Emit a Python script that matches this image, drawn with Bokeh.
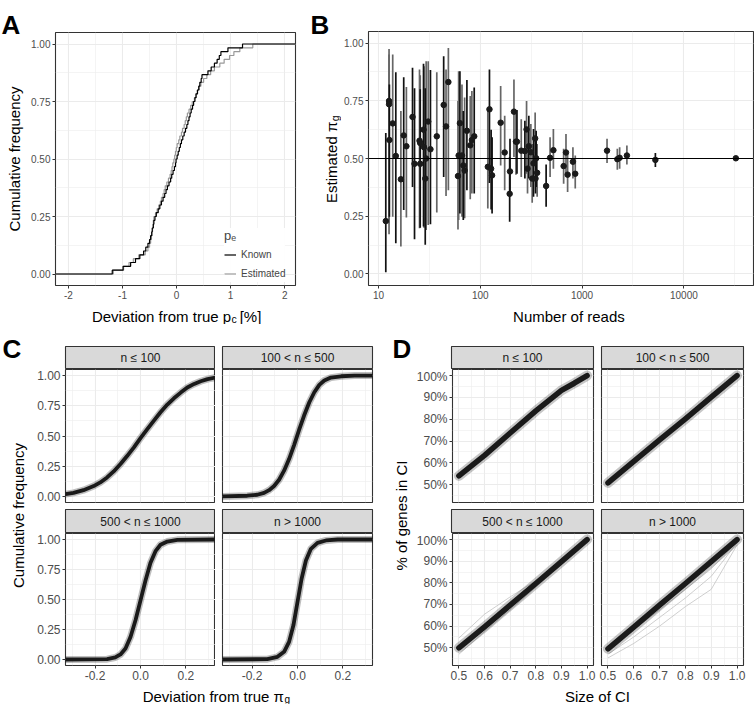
import math
from bokeh.plotting import figure
from bokeh.models import (Range1d, FixedTicker, NumeralTickFormatter,
                          PrintfTickFormatter, Span, Legend, LegendItem)
from bokeh.layouts import row, column
from bokeh.embed import file_html
from bokeh.resources import INLINE
from bokeh.core.properties import value

FONT = "Liberation Sans"

# ---------------- Panel A : deviation from true p_c (%) ----------------
A_known = [-1.19, -0.99, -0.85, -0.76, -0.68, -0.61, -0.57, -0.53, -0.50, -0.48,
           -0.46, -0.45, -0.43, -0.42, -0.40, -0.375, -0.34, -0.31, -0.28, -0.25,
           -0.22, -0.195, -0.17, -0.14, -0.11, -0.09, -0.065, -0.04, -0.02, -0.01,
           0.01, 0.03, 0.05, 0.07, 0.09, 0.115, 0.14, 0.165, 0.19, 0.21,
           0.23, 0.25, 0.27, 0.295, 0.315, 0.34, 0.36, 0.385, 0.41, 0.43,
           0.455, 0.47, 0.58, 0.64, 0.70, 0.75, 0.79, 0.82, 0.95, 1.22]
A_estimated = [-1.17, -0.98, -0.88, -0.80, -0.70, -0.58, -0.53, -0.50, -0.48, -0.465,
               -0.455, -0.445, -0.435, -0.43, -0.42, -0.39, -0.36, -0.33, -0.30, -0.28,
               -0.25, -0.23, -0.21, -0.18, -0.15, -0.12, -0.10, -0.085, -0.07, -0.05,
               -0.035, -0.02, -0.005, 0.01, 0.04, 0.06, 0.09, 0.11, 0.14, 0.16,
               0.18, 0.20, 0.23, 0.26, 0.29, 0.33, 0.36, 0.39, 0.42, 0.45,
               0.50, 0.56, 0.63, 0.70, 0.80, 0.88, 0.98, 1.06, 1.17, 1.41]
A_xticks = [-2, -1, 0, 1, 2]
A_yticks = [0, 0.25, 0.5, 0.75, 1.0]
A_legend = ["Known", "Estimated"]

# ---------------- Panel B : estimated pi_g vs number of reads ----------------
B_reads = [11.8, 12.7, 12.7, 12.8, 13.8, 14.8, 16.6, 17.7, 18.8, 21.6,
           22.6, 25.3, 25.7, 25.7, 27.7, 28.0, 28.8, 29.4, 30.8, 32.4,
           37.4, 43.7, 46.1, 48.6, 60.4, 61.3, 63.1, 66.1, 68.1, 70.2,
           73.9, 79.7, 82.7, 87.2, 118.6, 123.1, 127.8, 130.6, 158.6, 173.7,
           194.4, 195.9, 214.2, 224.1, 229.3, 252.7, 274.3, 284.9, 291.2, 300,
           314, 323.6, 333.4, 346, 348.8, 354, 362, 443.5, 485, 522.6,
           659, 695, 721, 813, 857, 1759, 2220, 2339, 2756, 5250, 32400]
B_est = [0.229, 0.749, 0.735, 0.58, 0.652, 0.511, 0.41, 0.60, 0.553, 0.68,
         0.477, 0.577, 0.567, 0.477, 0.625, 0.549, 0.413, 0.50, 0.66, 0.54,
         0.596, 0.732, 0.639, 0.831, 0.424, 0.513, 0.653, 0.513, 0.47, 0.448,
         0.62, 0.557, 0.58, 0.596, 0.464, 0.713, 0.456, 0.427, 0.655, 0.526,
         0.347, 0.444, 0.703, 0.573, 0.573, 0.534, 0.532, 0.626, 0.456, 0.553,
         0.527, 0.413, 0.479, 0.587, 0.413, 0.501, 0.438, 0.381, 0.503, 0.536,
         0.467, 0.526, 0.43, 0.486, 0.434, 0.534, 0.497, 0.503, 0.513, 0.494, 0.501]
B_hi = [0.610, 0.974, 0.95, 0.821, 0.95, 0.874, 0.706, 0.852, 0.81, 0.893,
        0.804, 0.885, 0.86, 0.80, 0.91, 0.90, 0.804, 0.921, 0.921, 0.883,
        0.874, 0.943, 0.885, 0.979, 0.749, 0.878, 0.878, 0.821, 0.706, 0.764,
        0.84, 0.771, 0.792, 0.807, 0.706, 0.885, 0.625, 0.592, 0.814, 0.685,
        0.506, 0.585, 0.842, 0.706, 0.71, 0.67, 0.663, 0.749, 0.628, 0.685,
        0.649, 0.563, 0.628, 0.699, 0.577, 0.62, 0.563, 0.474, 0.592, 0.628,
        0.542, 0.606, 0.52, 0.549, 0.513, 0.585, 0.542, 0.549, 0.556, 0.524, 0.511]
B_lo = [0.007, 0.172, 0.22, 0.248, 0.248, 0.133, 0.119, 0.277, 0.244, 0.377,
        0.15, 0.198, 0.25, 0.20, 0.205, 0.20, 0.126, 0.19, 0.212, 0.215,
        0.266, 0.42, 0.338, 0.362, 0.193, 0.234, 0.262, 0.248, 0.234, 0.241,
        0.362, 0.324, 0.348, 0.348, 0.284, 0.394, 0.279, 0.262, 0.47, 0.362,
        0.226, 0.348, 0.506, 0.43, 0.434, 0.42, 0.413, 0.434, 0.348, 0.413,
        0.377, 0.308, 0.334, 0.467, 0.348, 0.377, 0.334, 0.291, 0.42, 0.456,
        0.391, 0.434, 0.355, 0.413, 0.37, 0.48, 0.451, 0.456, 0.474, 0.463, 0.49]
B_tone = ["k", "g", "g", "k", "g", "k", "g", "k", "g", "k",
          "k", "g", "g", "k", "k", "g", "k", "g", "g", "k",
          "g", "k", "g", "g", "g", "g", "k", "g", "k", "g",
          "k", "g", "g", "k", "g", "k", "k", "k", "g", "g",
          "k", "k", "g", "g", "k", "g", "k", "g", "g", "k",
          "g", "g", "k", "g", "k", "k", "g", "k", "g", "g",
          "g", "g", "g", "g", "g", "g", "g", "g", "g", "k", "k"]
B_xticks = [10, 100, 1000, 10000]
B_yticks = [0, 0.25, 0.5, 0.75, 1.0]
B_ref = 0.5

# ---------------- Panel C : CDF of deviation from true pi_g ----------------
FACETS = ["n \u2264 100", "100 < n \u2264 500", "500 < n \u2264 1000", "n > 1000"]
C_x_n100 = [-0.330, -0.295, -0.251, -0.206, -0.177, -0.147, -0.118, -0.088, -0.059, -0.029,
            0.0, 0.029, 0.059, 0.088, 0.118, 0.147, 0.177, 0.206, 0.236, 0.265,
            0.295, 0.332]
C_y_n100 = [0.019, 0.030, 0.052, 0.086, 0.116, 0.157, 0.207, 0.268, 0.334, 0.406,
            0.483, 0.555, 0.627, 0.696, 0.760, 0.812, 0.859, 0.901, 0.931, 0.953,
            0.970, 0.984]
C_x_n500 = [-0.329, -0.221, -0.177, -0.147, -0.125, -0.103, -0.081, -0.059, -0.037, -0.015,
            0.007, 0.029, 0.052, 0.074, 0.096, 0.118, 0.147, 0.192, 0.251, 0.335]
C_y_n500 = [0.0, 0.006, 0.014, 0.030, 0.052, 0.086, 0.138, 0.213, 0.309, 0.425,
            0.550, 0.669, 0.779, 0.862, 0.923, 0.959, 0.983, 0.994, 1.0, 1.0]
C_x_n1000 = [-0.330, -0.147, -0.111, -0.088, -0.066, -0.044, -0.022, 0.0, 0.022, 0.044,
             0.066, 0.088, 0.118, 0.162, 0.332]
C_y_n1000 = [0.0, 0.003, 0.017, 0.042, 0.091, 0.188, 0.327, 0.493, 0.659, 0.806,
             0.903, 0.956, 0.983, 0.997, 1.0]
C_x_big = [-0.329, -0.133, -0.088, -0.059, -0.037, -0.018, 0.0, 0.018, 0.037, 0.059,
           0.088, 0.125, 0.177, 0.335]
C_y_big = [0.0, 0.003, 0.022, 0.064, 0.147, 0.285, 0.479, 0.673, 0.825, 0.922,
           0.972, 0.992, 1.0, 1.0]
C_xticks = [-0.2, 0.0, 0.2]
C_yticks = [0, 0.25, 0.5, 0.75, 1.0]

# ---------------- Panel D : coverage of credible intervals ----------------
D_x = [0.5, 0.6, 0.7, 0.8, 0.9, 1.0]
D_x_n100 = [0.5, 0.6, 0.7, 0.8, 0.9, 0.95, 1.0]
D_y_n100 = [0.540, 0.634, 0.737, 0.838, 0.932, 0.965, 1.0]
D_y_n500 = [0.508, 0.607, 0.705, 0.802, 0.901, 1.0]
D_y_n1000 = [0.500, 0.597, 0.697, 0.797, 0.898, 1.0]
D_y_big = [0.495, 0.595, 0.697, 0.797, 0.898, 1.0]
D_faint_n1000 = [[0.545, 0.655, 0.735, 0.81, 0.905, 1.0],
                 [0.47, 0.575, 0.675, 0.78, 0.885, 0.995]]
D_faint_big = [[0.453, 0.52, 0.60, 0.69, 0.77, 0.975],
               [0.47, 0.55, 0.64, 0.73, 0.83, 0.985],
               [0.485, 0.585, 0.675, 0.77, 0.865, 0.99]]
D_xticks = [0.5, 0.6, 0.7, 0.8, 0.9, 1.0]
D_yticks = [0.5, 0.6, 0.7, 0.8, 0.9, 1.0]

# ---------------- helpers ----------------
_CW = {" ": 278, "%": 889, "[": 278, "]": 278, ".": 278, "-": 333, "<": 584, ">": 584,
       "\u2264": 549, "\u03c0": 570, "A": 667, "B": 667, "C": 722, "D": 722, "E": 667,
       "I": 278, "N": 722, "S": 667, "a": 556, "b": 556, "c": 500, "d": 556, "e": 556,
       "f": 278, "g": 556, "i": 222, "l": 222, "m": 833, "n": 556, "o": 556, "p": 556,
       "q": 556, "r": 333, "s": 500, "t": 278, "u": 556, "v": 500, "y": 500, "z": 500}


def tw(s, size):
    return sum(_CW.get(ch, 556) for ch in s) * size / 1000.0


def txt(f, x, y, s, size, bold=False, color="#000000", align="left",
        baseline="alphabetic", angle=0.0):
    f.text(x=[x], y=[y], text=[s], angle=angle, text_font=value(FONT),
           text_font_size=f"{size}px", text_font_style="bold" if bold else "normal",
           text_color=color, text_align=align, text_baseline=baseline)


def rich(f, main, sub, tail, center, base, size, ssize, drop, rotated=False):
    """main text, then a subscript, then an optional tail, anchored at the junction."""
    total = tw(main, size) + tw(sub, ssize) + (tw(" " + tail, size) if tail else 0)
    anchor = center - total / 2.0 + tw(main, size)
    rot = math.pi / 2 if rotated else 0.0

    def put(a, b, s, sz, align):
        if rotated:
            txt(f, b, a, s, sz, align=align, angle=rot)
        else:
            txt(f, a, b, s, sz, align=align)

    put(anchor, base, main, size, "right")
    put(anchor + 0.5, base + drop if rotated else base - drop, sub, ssize, "left")
    if tail:
        put(anchor + 0.5 + tw(sub + " ", ssize) + 1, base, tail, size, "left")


def tfig(w, h):
    f = figure(width=w, height=h, x_range=Range1d(0, w), y_range=Range1d(0, h),
               x_axis_location=None, y_axis_location=None, toolbar_location=None,
               output_backend="svg")
    f.min_border_left = f.min_border_right = 0
    f.min_border_top = f.min_border_bottom = 0
    f.outline_line_color = None
    f.xgrid.visible = False
    f.ygrid.visible = False
    f.background_fill_color = "white"
    f.border_fill_color = "white"
    return f


def pfig(w, h, xr, yr, mb, xaxis=True, yaxis=True, xlog=False):
    f = figure(width=w, height=h, x_range=Range1d(*xr), y_range=Range1d(*yr),
               x_axis_type="log" if xlog else "linear",
               x_axis_location="below" if xaxis else None,
               y_axis_location="left" if yaxis else None,
               toolbar_location=None, output_backend="svg")
    f.min_border_left, f.min_border_right, f.min_border_top, f.min_border_bottom = mb
    f.outline_line_color = "#333333"
    f.outline_line_width = 1.1
    f.background_fill_color = "white"
    f.border_fill_color = "white"
    return f


def style(f, xt, xm, yt, ym, xfmt, yfmt, fsize, tick=3):
    for g, t, m in ((f.xgrid[0], xt, xm), (f.ygrid[0], yt, ym)):
        g.ticker = FixedTicker(ticks=t, minor_ticks=m)
        g.grid_line_color = "#EBEBEB"
        g.grid_line_width = 1.1
        g.minor_grid_line_color = "#EDEDED"
        g.minor_grid_line_width = 0.6
    axes = [(a, xt, xfmt) for a in f.xaxis] + [(a, yt, yfmt) for a in f.yaxis]
    for ax, t, fmt in axes:
        ax.ticker = FixedTicker(ticks=t)
        ax.formatter = fmt
        ax.axis_line_color = None
        ax.major_tick_line_color = "#333333"
        ax.major_tick_line_width = 1
        ax.major_tick_out = tick
        ax.major_tick_in = 0
        ax.minor_tick_line_color = None
        ax.major_label_text_color = "#4D4D4D"
        ax.major_label_text_font = FONT
        ax.major_label_text_font_size = fsize
        ax.major_label_standoff = 2


def sfig(w, h, mb, label):
    f = figure(width=w, height=h, x_range=Range1d(0, 1), y_range=Range1d(0, 1),
               x_axis_location=None, y_axis_location=None, toolbar_location=None,
               output_backend="svg")
    f.min_border_left, f.min_border_right, f.min_border_top, f.min_border_bottom = mb
    f.xgrid.visible = False
    f.ygrid.visible = False
    f.background_fill_color = "#D9D9D9"
    f.border_fill_color = "white"
    f.outline_line_color = "#333333"
    f.outline_line_width = 1.1
    txt(f, 0.5, 0.5, label, 12, color="#1A1A1A", align="center", baseline="middle")
    return f


def ecdf(vals, lo, hi):
    s = sorted(vals)
    n = len(s)
    return [lo] + s + [hi], [0.0] + [(i + 1) / n for i in range(n)] + [1.0]


def band_line(f, xs, ys, core, halo, halo_alpha):
    f.line(xs, ys, line_color="#000000", line_alpha=halo_alpha, line_width=halo,
           line_join="round", line_cap="round")
    f.line(xs, ys, line_color="#1A1A1A", line_width=core, line_join="round",
           line_cap="round")


TITLE = 15
SUB = 10.5
LETTER = 26
ASC = 0.905 * LETTER
TOP_H = 324          # height of the top row (panels A, B)
BOT_H = 380          # height of the bottom row (panels C, D)
XT_TOP = 23          # height of the x-title strip under A and B
XT_BOT = 22          # height of the x-title strip under C and D
GAP = 7              # spacing between the two facet rows

# ================= Panel A =================
A_xr = (-2.24, 2.2)
ytA = tfig(28, TOP_H)
txt(ytA, 1, TOP_H - ASC - 1, "A", LETTER, bold=True)
txt(ytA, 14, TOP_H - 158.5, "Cumulative frequency", TITLE, align="center",
    baseline="middle", angle=math.pi / 2)
figA = pfig(272, TOP_H - XT_TOP, A_xr, (-0.05, 1.05), (25, 5, 32, 16))
style(figA, A_xticks, [-1.5, -0.5, 0.5, 1.5], A_yticks, [0.125, 0.375, 0.625, 0.875],
      PrintfTickFormatter(format="%d"), PrintfTickFormatter(format="%.2f"), "10px")
xe, ye = ecdf(A_estimated, A_xr[0], A_xr[1])
xk, yk = ecdf(A_known, A_xr[0], A_xr[1])
r_est = figA.step(xe, ye, mode="after", line_color="#999999", line_width=1.2)
r_kn = figA.step(xk, yk, mode="after", line_color="#000000", line_width=1.2)
legA = Legend(items=[LegendItem(label=A_legend[0], renderers=[r_kn]),
                     LegendItem(label=A_legend[1], renderers=[r_est])],
              location=(169, 3), title="p\u2091")
legA.background_fill_color = "white"
legA.border_line_color = None
legA.padding = 4
legA.margin = 0
legA.spacing = 2
legA.glyph_width = 12
legA.glyph_height = 17
legA.label_height = 17
legA.label_standoff = 5
legA.label_text_font = FONT
legA.label_text_font_size = "10px"
legA.title_text_font = FONT
legA.title_text_font_size = "13px"
legA.title_text_font_style = "normal"
legA.title_standoff = 3
figA.add_layout(legA)
xtA = tfig(272, XT_TOP)
rich(xtA, "Deviation from true p", "c", "[%]", 173 - 28, 8.5, TITLE, SUB, 2.8)
colA = row(ytA, column(figA, xtA))

# ================= Panel B =================
ytB = tfig(41, TOP_H)
txt(ytB, 10, TOP_H - ASC - 1, "B", LETTER, bold=True)
rich(ytB, "Estimated \u03c0", "g", "", TOP_H - 158, 31, TITLE, SUB, 3, rotated=True)
figB = pfig(413, TOP_H - XT_TOP, (10 ** 0.902, 10 ** 4.684), (-0.05, 1.05),
            (26, 1, 31, 16), xlog=True)
style(figB, B_xticks, [10 ** 1.5, 10 ** 2.5, 10 ** 3.5, 10 ** 4.5],
      B_yticks, [0.125, 0.375, 0.625, 0.875],
      NumeralTickFormatter(format="0"), PrintfTickFormatter(format="%.2f"), "10px")
figB.add_layout(Span(location=B_ref, dimension="width", line_color="#000000",
                     line_width=1.1))
tone_col = {"k": "#111111", "g": "#666666"}
for tone in ("g", "k"):
    idx = [i for i, t in enumerate(B_tone) if t == tone]
    figB.segment(x0=[B_reads[i] for i in idx], y0=[B_lo[i] for i in idx],
                 x1=[B_reads[i] for i in idx], y1=[B_hi[i] for i in idx],
                 line_color=tone_col[tone], line_width=1.7)
figB.scatter(B_reads, B_est, size=5.5, color="#1A1A1A")
xtB = tfig(413, XT_TOP)
txt(xtB, 556 - 341, 8.5, "Number of reads", TITLE, align="center")
colB = row(ytB, column(figB, xtB))

top = row(colA, colB)

# ================= Panel C =================
C_xr = (-0.33, 0.33)
C_yr = (-0.05, 1.05)
C_xm = [-0.3, -0.1, 0.1, 0.3]
C_ym = [0.125, 0.375, 0.625, 0.875]
ytC = tfig(30, BOT_H)
txt(ytC, 2, BOT_H - ASC - 1, "C", LETTER, bold=True)
txt(ytC, 18, 704 - 515, "Cumulative frequency", TITLE, align="center",
    baseline="middle", angle=math.pi / 2)
cL, cR = (35, 0), (7, 8)
c_panels = []
c_data = [(C_x_n100, C_y_n100), (C_x_n500, C_y_n500), (C_x_n1000, C_y_n1000), (C_x_big, C_y_big)]
c_strips = []
for k in range(4):
    left = k % 2 == 0
    bottom = k >= 2
    w = 185 if left else 165
    lr = cL if left else cR
    sh, smt = (45, 22) if not bottom else (24, 0)
    c_strips.append(sfig(w, sh, (lr[0], lr[1], smt, 0), FACETS[k]))
    ph = 149 if bottom else 133 + GAP
    f = pfig(w, ph, C_xr, C_yr, (lr[0], lr[1], 0, 17 if bottom else GAP),
             xaxis=bottom, yaxis=left)
    style(f, C_xticks, C_xm, C_yticks, C_ym, PrintfTickFormatter(format="%.1f"),
          PrintfTickFormatter(format="%.2f"), "12px")
    band_line(f, c_data[k][0], c_data[k][1], 3.8, 7, 0.25)
    c_panels.append(f)
xtC = tfig(350, XT_BOT)
rich(xtC, "Deviation from true \u03c0", "g", "", 216.5 - 30, 7.8, TITLE, 10, 2.4)
colC = row(ytC, column(row(c_strips[0], c_strips[1]), row(c_panels[0], c_panels[1]),
                       row(c_strips[2], c_strips[3]), row(c_panels[2], c_panels[3]), xtC))

# ================= Panel D =================
D_xr = (0.475, 1.025)
D_yr = (0.418, 1.028)
D_xm = [0.55, 0.65, 0.75, 0.85, 0.95]
D_ym = [0.45, 0.55, 0.65, 0.75, 0.85, 0.95]
ytD = tfig(33, BOT_H)
txt(ytD, 12, BOT_H - ASC - 1, "D", LETTER, bold=True)
txt(ytD, 21, 704 - 515, "% of genes in CI", TITLE, align="center",
    baseline="middle", angle=math.pi / 2)
dL, dR = (38, 4), (4, 11)
d_main = [(D_x_n100, D_y_n100), (D_x, D_y_n500), (D_x, D_y_n1000), (D_x, D_y_big)]
d_faint = [[], [], D_faint_n1000, D_faint_big]
d_panels = []
d_strips = []
for k in range(4):
    left = k % 2 == 0
    bottom = k >= 2
    w = 184 if left else 157
    lr = dL if left else dR
    sh, smt = (45, 22) if not bottom else (24, 0)
    d_strips.append(sfig(w, sh, (lr[0], lr[1], smt, 0), FACETS[k]))
    ph = 149 if bottom else 133 + GAP
    f = pfig(w, ph, D_xr, D_yr, (lr[0], lr[1], 0, 17 if bottom else GAP),
             xaxis=bottom, yaxis=left)
    style(f, D_xticks, D_xm, D_yticks, D_ym, PrintfTickFormatter(format="%.1f"),
          NumeralTickFormatter(format="0%"), "12px")
    for fy in d_faint[k]:
        f.line(D_x, fy, line_color="#BBBBBB", line_alpha=0.7, line_width=1)
    band_line(f, d_main[k][0], d_main[k][1], 5.5, 10, 0.22)
    d_panels.append(f)
xtD = tfig(341, XT_BOT)
txt(xtD, 597 - 413, 7.8, "Size of CI", TITLE, align="center")
colD = row(ytD, column(row(d_strips[0], d_strips[1]), row(d_panels[0], d_panels[1]),
                       row(d_strips[2], d_strips[3]), row(d_panels[2], d_panels[3]), xtD))

bottom_row = row(colC, colD)
layout = column(top, bottom_row)

open("out.html", "w").write(file_html(layout, INLINE, title="figure"))
